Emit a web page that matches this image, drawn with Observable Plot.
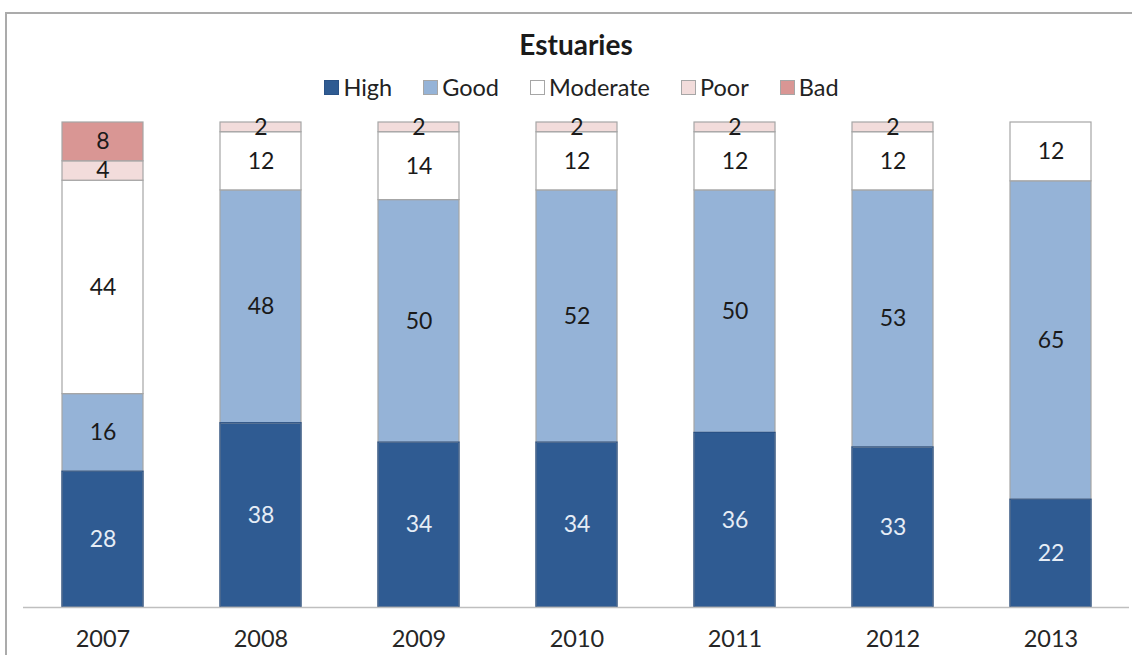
<!DOCTYPE html>
<html><head><meta charset="utf-8">
<script src="https://cdn.jsdelivr.net/npm/d3@7"></script>
<script src="https://cdn.jsdelivr.net/npm/@observablehq/plot@0.6"></script>
<style>
body{margin:0;background:#fff;font-family:Lato,"Open Sans",sans-serif;}
#wrap{position:relative;width:1132px;height:655px;overflow:hidden;background:#fff;}
#frame{position:absolute;left:5px;top:12px;width:1200px;height:800px;border:2px solid #ababab;box-sizing:border-box;}
#title{position:absolute;left:0;width:1152px;top:29px;text-align:center;font-weight:bold;font-size:28px;line-height:30px;color:#1a1a1a;}
#legend{position:absolute;top:75px;left:0;width:1163px;display:flex;justify-content:center;gap:31px;font-size:23.5px;line-height:25px;color:#222;}
.item{display:flex;align-items:center;gap:4px;}
.sw{width:13px;height:13px;border:1px solid #a6a6a6;display:inline-block;}
#chart{position:absolute;left:0;top:105px;}
</style></head>
<body>
<div id="wrap">
  <div id="frame"></div>
  <div id="title">Estuaries</div>
  <div id="legend"></div>
  <div id="chart"></div>
</div>
<script>
const years = ["2007","2008","2009","2010","2011","2012","2013"];
const series = ["High","Good","Moderate","Poor","Bad"];
const colors = ["#2f5b92","#95b3d7","#ffffff","#f2dcdb","#d99694"];
const high = [28,38,34,34,36,33,22];
const good = [16,48,50,52,50,53,65];
const moderate = [44,12,14,12,12,12,12];
const poor = [4,2,2,2,2,2,0];
const bad = [8,0,0,0,0,0,0];
const values = [high, good, moderate, poor, bad];

const rows = [];
series.forEach((s, i) => years.forEach((y, j) => {
  if (values[i][j] > 0) rows.push({year: y, series: s, value: values[i][j]});
}));

// legend
const leg = document.getElementById("legend");
series.forEach((s, i) => {
  const it = document.createElement("div"); it.className = "item";
  const sw = document.createElement("span"); sw.className = "sw";
  sw.style.background = colors[i];
  if (i === 0) sw.style.borderColor = "#2a5286";
  const t = document.createElement("span"); t.textContent = s;
  it.appendChild(sw); it.appendChild(t); leg.appendChild(it);
});

const stackOpts = {x: "year", y: "value", z: "series", offset: "normalize", order: null};
const isHigh = d => d.series === "High" ? 1 : 0;
const notHigh = d => d.series === "High" ? 0 : 1;

const chart = Plot.plot({
  width: 1132, height: 550,
  marginTop: 17, marginBottom: 48, marginLeft: 23, marginRight: 3,
  style: {fontFamily: "Lato, 'Open Sans', sans-serif", fontSize: "23.5px", color: "#262626", background: "transparent"},
  x: {domain: years, paddingInner: 0.49, paddingOuter: 0.245, label: null, tickSize: 0, tickPadding: 23},
  y: {axis: null, domain: [0, 1]},
  color: {domain: series, range: colors},
  opacity: {domain: [0, 1], range: [0, 1]},
  marks: [
    Plot.barY(rows, Plot.stackY({...stackOpts, fill: "series", stroke: "#a6a6a6", strokeWidth: 1.2})),
    Plot.barY(rows, Plot.stackY({...stackOpts, fill: "none", stroke: "#2a5286", strokeWidth: 1.2, strokeOpacity: isHigh})),
    Plot.ruleY([0], {stroke: "#bfbfbf", strokeWidth: 1.5}),
    Plot.text(rows, Plot.stackY({...stackOpts, text: "value", fill: "#1a1a1a", fillOpacity: notHigh, fontSize: 23})),
    Plot.text(rows, Plot.stackY({...stackOpts, text: "value", fill: "#e6edf6", fillOpacity: isHigh, fontSize: 23}))
  ]
});
document.getElementById("chart").appendChild(chart);
</script>
</body></html>
